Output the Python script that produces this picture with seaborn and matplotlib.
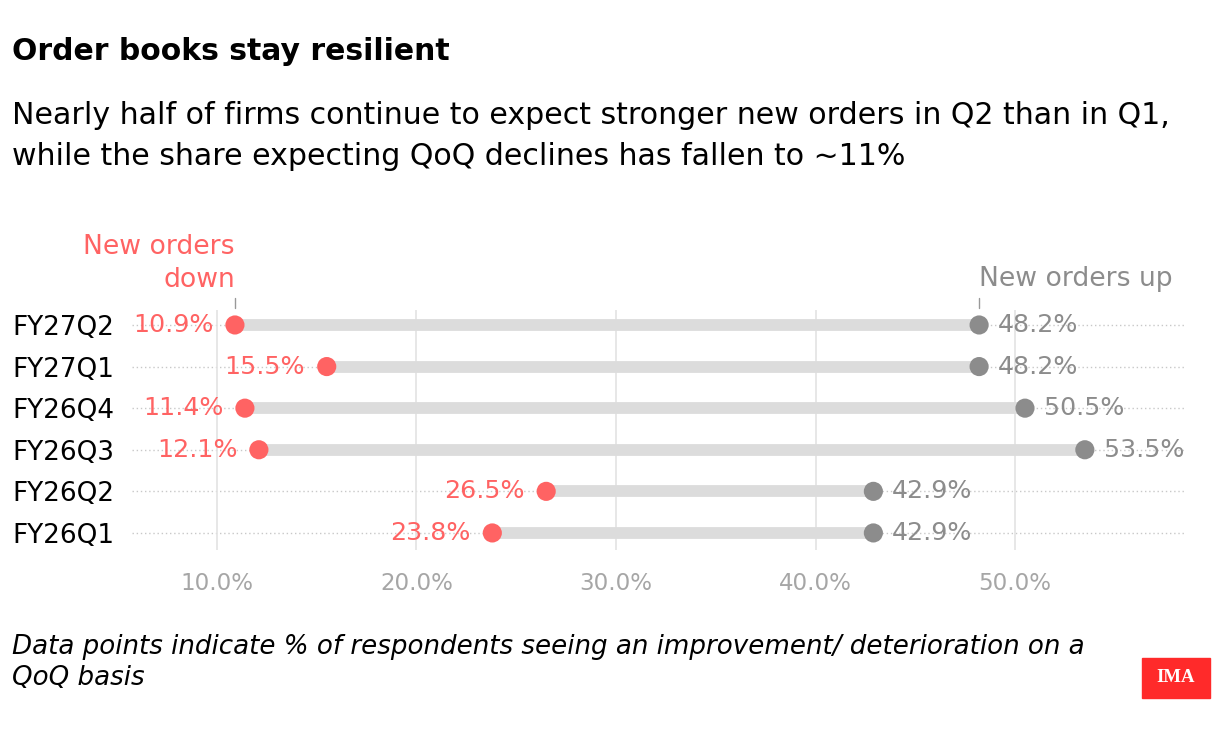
import matplotlib
matplotlib.use("Agg")
import matplotlib.pyplot as plt
import matplotlib.patches as mpatches
import matplotlib.transforms as mtransforms
import seaborn as sns
import pandas as pd
import numpy as np

# ---- data ----
quarters = ["FY27Q2", "FY27Q1", "FY26Q4", "FY26Q3", "FY26Q2", "FY26Q1"]
orders_down = [10.9, 15.5, 11.4, 12.1, 26.5, 23.8]
orders_up = [48.2, 48.2, 50.5, 53.5, 42.9, 42.9]
x_ticks = [10, 20, 30, 40, 50]
x_tick_labels = ["10.0%", "20.0%", "30.0%", "40.0%", "50.0%"]

RED = "#ff6363"
GREY = "#8c8c8c"
BAR = "#dcdcdc"
FONT = "DejaVu Sans"

sns.set_theme(style="white")
plt.rcParams["font.family"] = [FONT]

W, H = 1220, 732
fig = plt.figure(figsize=(W / 100, H / 100), dpi=100)
ax = fig.add_axes([132 / W, 1 - 550 / H, (1186 - 132) / W, (550 - 310) / H])

pos = np.arange(len(quarters))
df = pd.DataFrame({
    "pos": np.concatenate([pos, pos]),
    "value": orders_down + orders_up,
    "kind": ["down"] * len(pos) + ["up"] * len(pos),
})

# row dotted guide lines
for p in pos:
    ax.axhline(p, color="#c8c8c8", lw=1.0, ls=(0, (1, 2)), zorder=0)

# vertical gridlines
for t in x_ticks:
    ax.axvline(t, color="#e3e3e3", lw=1.2, zorder=0)

# bars between dots
ax.hlines(pos, orders_down, orders_up, color=BAR, lw=8.5, zorder=1)

sns.scatterplot(data=df, x="value", y="pos", hue="kind",
                palette={"down": RED, "up": GREY}, s=190, linewidth=0,
                legend=False, zorder=3, ax=ax)

# value labels
for p, d, u in zip(pos, orders_down, orders_up):
    ax.annotate(f"{d:.1f}%", (d, p), xytext=(-15.5, 0), textcoords="offset points",
                ha="right", va="center", color=RED, fontsize=18.2)
    ax.annotate(f"{u:.1f}%", (u, p), xytext=(13.5, 0), textcoords="offset points",
                ha="left", va="center", color=GREY, fontsize=18.2)

ax.set_xlim(5.74, 58.57)
ax.set_ylim(5.41, -0.36)
ax.set_xticks(x_ticks)
ax.set_xticklabels(x_tick_labels, color="#a6a6a6", fontsize=16.6)
ax.set_yticks(pos)
ax.set_yticklabels(quarters, fontsize=18.9, color="black")
ax.tick_params(axis="x", length=0, pad=16)
ax.tick_params(axis="y", length=0, pad=0)
for lab in ax.get_yticklabels():
    lab.set_horizontalalignment("left")
    lab.set_transform(lab.get_transform() + mtransforms.ScaledTranslation(-120 / 100, 0, fig.dpi_scale_trans))
for s in ax.spines.values():
    s.set_visible(False)
ax.set_xlabel("")
ax.set_ylabel("")

# series annotations
trans = mtransforms.blended_transform_factory(ax.transData, ax.transAxes)
ax.plot([orders_down[0]] * 2, [1.008, 1.05], color="#999999", lw=1, transform=trans, clip_on=False)
ax.plot([orders_up[0]] * 2, [1.008, 1.05], color="#999999", lw=1, transform=trans, clip_on=False)
ax.text(orders_down[0], 1.193, "New orders\ndown", transform=trans, ha="right", va="center",
        multialignment="right", color=RED, fontsize=19.2, linespacing=1.38)
ax.text(orders_up[0], 1.129, "New orders up", transform=trans, ha="left", va="center",
        color=GREY, fontsize=19.2)

# titles
fig.text(12 / W, 1 - 52 / H, "Order books stay resilient", fontsize=21.5, fontweight="bold",
         color="black", va="center", ha="left")
fig.text(12 / W, 1 - 136 / H,
         "Nearly half of firms continue to expect stronger new orders in Q2 than in Q1,\n"
         "while the share expecting QoQ declines has fallen to ~11%",
         fontsize=21.6, color="black", va="center", ha="left", linespacing=1.5)

# footer
fig.text(12 / W, 1 - 663 / H,
         "Data points indicate % of respondents seeing an improvement/ deterioration on a\nQoQ basis",
         fontsize=18.8, style="italic", color="black", va="center", ha="left", linespacing=1.25)

# logo
fig.patches.append(mpatches.Rectangle((1142 / W, 1 - 698 / H), 68 / W, 40 / H,
                                      transform=fig.transFigure, color="#ff2a2a", zorder=5))
fig.text(1176 / W, 1 - 678 / H, "IMA", fontsize=13.5, fontweight="bold", color="white",
         family="Liberation Serif", ha="center", va="center", zorder=6)

fig.savefig("out.png", dpi=100)
